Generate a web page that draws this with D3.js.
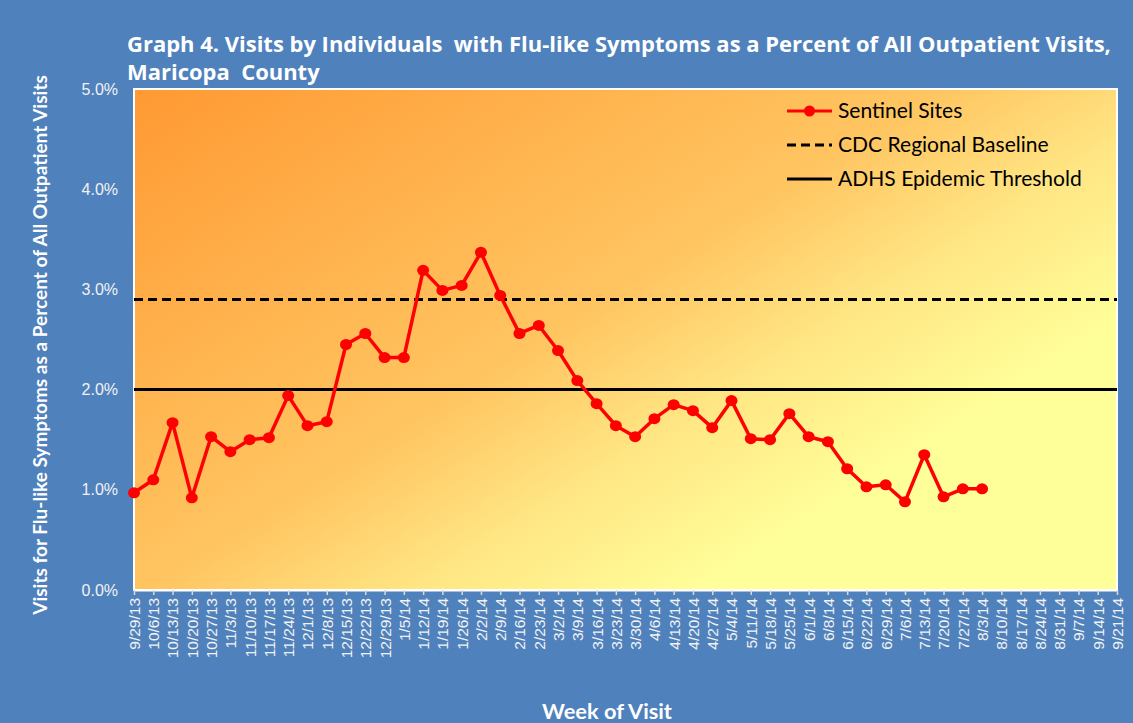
<!DOCTYPE html>
<html>
<head>
<meta charset="utf-8">
<script src="https://cdn.jsdelivr.net/npm/d3@7"></script>
<style>
  body { margin: 0; background: #4F81BD; }
  svg { display: block; font-family: Lato, "Open Sans", sans-serif; }
</style>
</head>
<body>
<svg id="chart" width="1133" height="723"></svg>
<script>
// weeks shown on the x axis
var weeks = ["9/29/13","10/6/13","10/13/13","10/20/13","10/27/13","11/3/13","11/10/13","11/17/13","11/24/13",
  "12/1/13","12/8/13","12/15/13","12/22/13","12/29/13","1/5/14","1/12/14","1/19/14","1/26/14","2/2/14",
  "2/9/14","2/16/14","2/23/14","3/2/14","3/9/14","3/16/14","3/23/14","3/30/14","4/6/14","4/13/14",
  "4/20/14","4/27/14","5/4/14","5/11/14","5/18/14","5/25/14","6/1/14","6/8/14","6/15/14","6/22/14",
  "6/29/14","7/6/14","7/13/14","7/20/14","7/27/14","8/3/14","8/10/14","8/17/14","8/24/14","8/31/14",
  "9/7/14","9/14/14","9/21/14"];

// sentinel sites, percent (data only through 8/3/14)
var sentinel = [0.97,1.10,1.67,0.92,1.53,1.38,1.50,1.52,1.94,1.64,1.68,2.45,2.56,2.32,2.32,3.19,2.99,3.04,3.37,
  2.94,2.56,2.64,2.39,2.09,1.86,1.64,1.53,1.71,1.85,1.79,1.62,1.89,1.51,1.50,1.76,1.53,1.48,1.21,1.03,
  1.05,0.88,1.35,0.93,1.01,1.01];

var cdcBaseline = 2.9;
var adhsThreshold = 2.0;
var yTicks = [0, 1, 2, 3, 4, 5];

var titleLines = ["Graph 4. Visits by Individuals  with Flu-like Symptoms as a Percent of All Outpatient Visits,",
  "Maricopa  County"];
var legendNames = ["Sentinel Sites", "CDC Regional Baseline", "ADHS Epidemic Threshold"];

var margin = {top: 89, right: 16, bottom: 133, left: 134};
var W = 1133, H = 723;
var width = W - margin.left - margin.right;
var height = H - margin.top - margin.bottom;

var svg = d3.select('#chart');

// scale a text's font so it takes the wanted width
function fitWidth(sel, target) {
  var w = sel.node().getComputedTextLength();
  var fs = parseFloat(sel.style('font-size'));
  sel.style('font-size', (fs * target / w) + 'px');
  return fs * target / w;
}

// background gradient for the plot area (orange top-left to pale yellow)
var defs = svg.append('defs');
var grad = defs.append('linearGradient')
  .attr('id', 'plotGrad')
  .attr('gradientUnits', 'userSpaceOnUse')
  .attr('x1', 0).attr('y1', 0).attr('x2', 515).attr('y2', 809);
grad.append('stop').attr('offset', 0).attr('stop-color', '#FF9933');
grad.append('stop').attr('offset', 0.3).attr('stop-color', '#FFB752');
grad.append('stop').attr('offset', 0.45).attr('stop-color', '#FFC561');
grad.append('stop').attr('offset', 0.6).attr('stop-color', '#FFE684');
grad.append('stop').attr('offset', 0.76).attr('stop-color', '#FFFF99');
grad.append('stop').attr('offset', 1).attr('stop-color', '#FFFF99');

var canvas = svg.append('g')
  .attr('transform', 'translate(' + margin.left + ',' + margin.top + ')');

canvas.append('rect')
  .attr('x', 0).attr('y', 0)
  .attr('width', width).attr('height', height)
  .attr('fill', 'url(#plotGrad)')
  .attr('stroke', '#ffffff').attr('stroke-width', 2);

var xScale = d3.scalePoint().domain(weeks).range([0, width]);
var yScale = d3.scaleLinear().domain([0, 5]).range([height, 0]);

// y axis labels
var yAxis = canvas.append('g')
  .call(d3.axisLeft(yScale).tickValues(yTicks).tickSize(0).tickPadding(16)
    .tickFormat(function(d) { return d.toFixed(1) + '%'; }));
yAxis.select('.domain').remove();
yAxis.selectAll('text').attr('fill', '#F2F2F2').style('font-size', '16px');

// x axis
var xAxis = canvas.append('g')
  .attr('transform', 'translate(0,' + height + ')')
  .call(d3.axisBottom(xScale).tickSize(5).tickSizeOuter(0));
xAxis.select('.domain').attr('stroke', '#ffffff').attr('stroke-width', 2);
xAxis.selectAll('.tick line').attr('stroke', '#D9D9D9').attr('stroke-width', 1.5);
xAxis.selectAll('text')
  .attr('fill', '#F2F2F2')
  .style('font-size', '15.5px')
  .attr('transform', 'rotate(-90)')
  .attr('text-anchor', 'end')
  .attr('x', -8).attr('y', 0).attr('dy', '0.35em');

// reference lines
canvas.append('line')
  .attr('x1', 0).attr('x2', width)
  .attr('y1', yScale(cdcBaseline)).attr('y2', yScale(cdcBaseline))
  .attr('stroke', '#000').attr('stroke-width', 3).attr('stroke-dasharray', '9,5');
canvas.append('line')
  .attr('x1', 0).attr('x2', width)
  .attr('y1', yScale(adhsThreshold)).attr('y2', yScale(adhsThreshold))
  .attr('stroke', '#000').attr('stroke-width', 3);

// sentinel series
var pts = sentinel.map(function(v, i) { return [weeks[i], v]; });
var line = d3.line()
  .x(function(d) { return xScale(d[0]); })
  .y(function(d) { return yScale(d[1]); });
canvas.append('path').datum(pts)
  .attr('d', line)
  .attr('fill', 'none')
  .attr('stroke', '#FF0000').attr('stroke-width', 3.5)
  .attr('stroke-linejoin', 'round');
canvas.selectAll('.dot').data(pts).enter().append('ellipse')
  .attr('class', 'dot')
  .attr('cx', function(d) { return xScale(d[0]); })
  .attr('cy', function(d) { return yScale(d[1]); })
  .attr('rx', 6).attr('ry', 5.5)
  .attr('fill', '#FF0000');

// legend
var legend = canvas.append('g').attr('transform', 'translate(653,22)');
var legTexts = [];
legendNames.forEach(function(name, i) {
  var g = legend.append('g').attr('transform', 'translate(0,' + (i * 34) + ')');
  var ln = g.append('line').attr('x1', 0).attr('x2', 45).attr('y1', 0).attr('y2', 0)
    .attr('stroke', i === 0 ? '#FF0000' : '#000').attr('stroke-width', 3);
  if (i === 1) ln.attr('stroke-dasharray', '9,5');
  if (i === 0) g.append('circle').attr('cx', 22.5).attr('cy', 0).attr('r', 5.5).attr('fill', '#FF0000');
  legTexts.push(g.append('text').attr('x', 51).attr('y', 0).attr('dy', '0.35em')
    .style('font-size', '18px').attr('fill', '#000').text(name));
});
var legFs = fitWidth(legTexts[2], 244);
legTexts.forEach(function(t) { t.style('font-size', legFs + 'px'); });

// titles (wider face so the first line fills the width at about 18px)
var titles = svg.selectAll('.title').data(titleLines).enter().append('text')
  .attr('class', 'title')
  .attr('xml:space', 'preserve')
  .attr('x', 127).attr('y', function(d, i) { return 52 + i * 28; })
  .attr('fill', '#ffffff')
  .style('font-family', '"Open Sans", sans-serif')
  .style('font-size', '18px').style('font-weight', 'bold')
  .style('white-space', 'pre')
  .text(function(d) { return d; });
var tFs = fitWidth(d3.select(titles.nodes()[0]), 984);
titles.style('font-size', tFs + 'px');

var yTitle = svg.append('text')
  .attr('transform', 'translate(47,345) rotate(-90)')
  .attr('text-anchor', 'middle')
  .attr('fill', '#ffffff').style('font-size', '18px').style('font-weight', 'bold')
  .text('Visits for Flu-like Symptoms as a Percent of All Outpatient Visits');
fitWidth(yTitle, 540);

var xTitle = svg.append('text')
  .attr('x', 607).attr('y', 719)
  .attr('text-anchor', 'middle')
  .attr('fill', '#ffffff').style('font-size', '19px').style('font-weight', 'bold')
  .text('Week of Visit');
fitWidth(xTitle, 130);
</script>
</body>
</html>
